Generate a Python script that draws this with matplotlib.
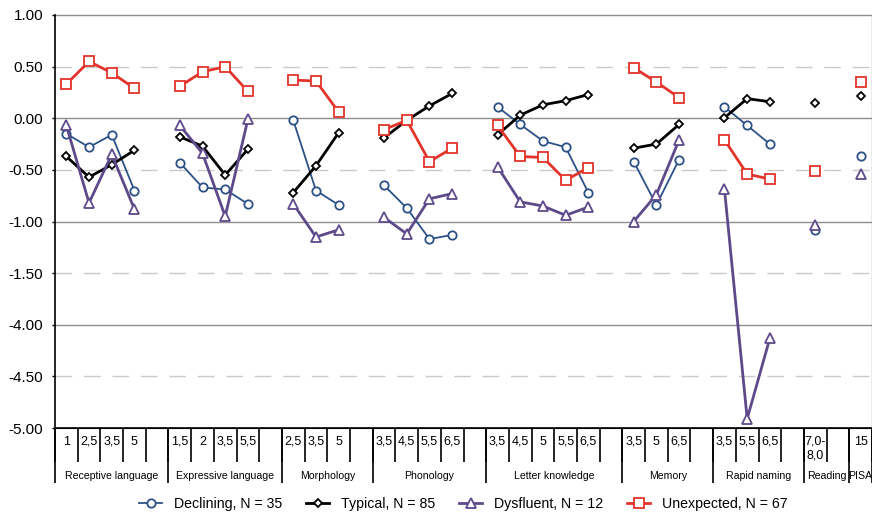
import numpy as np
import matplotlib.pyplot as plt

plt.rcParams['font.family'] = ['Liberation Sans', 'DejaVu Sans']

# domains and age points (years) per domain
domains = ["Receptive language", "Expressive language", "Morphology", "Phonology",
           "Letter knowledge", "Memory", "Rapid naming", "Reading", "PISA"]
ages = [["1", "2,5", "3,5", "5"],
        ["1,5", "2", "3,5", "5,5"],
        ["2,5", "3,5", "5"],
        ["3,5", "4,5", "5,5", "6,5"],
        ["3,5", "4,5", "5", "5,5", "6,5"],
        ["3,5", "5", "6,5"],
        ["3,5", "5,5", "6,5"],
        ["7,0-\n8,0"],
        ["15"]]

# z-scores, flat in the same order as ages
declining = [-0.15, -0.28, -0.16, -0.70,
             -0.43, -0.67, -0.69, -0.83,
             -0.02, -0.70, -0.84,
             -0.65, -0.87, -1.17, -1.13,
             0.11, -0.06, -0.22, -0.28, -0.72,
             -0.42, -0.84, -0.40,
             0.11, -0.07, -0.25,
             -1.08,
             -0.37]
typical = [-0.37, -0.57, -0.45, -0.31,
           -0.18, -0.27, -0.55, -0.30,
           -0.72, -0.46, -0.14,
           -0.19, -0.02, 0.12, 0.24,
           -0.16, 0.03, 0.13, 0.17, 0.23,
           -0.29, -0.25, -0.06,
           0.005, 0.19, 0.16,
           0.15,
           0.22]
dysfluent = [-0.07, -0.82, -0.35, -0.88,
             -0.07, -0.34, -0.95, -0.01,
             -0.83, -1.15, -1.08,
             -0.96, -1.12, -0.78, -0.73,
             -0.47, -0.81, -0.85, -0.94, -0.86,
             -1.00, -0.74, -0.21,
             -0.69, -4.91, -4.13,
             -1.03,
             -0.54]
unexpected = [0.33, 0.55, 0.44, 0.29,
              0.31, 0.45, 0.50, 0.26,
              0.37, 0.36, 0.06,
              -0.11, -0.02, -0.42, -0.29,
              -0.07, -0.37, -0.38, -0.60, -0.48,
              0.49, 0.35, 0.20,
              -0.21, -0.54, -0.59,
              -0.51,
              0.35]

series = [
    ("Declining, N = 35", declining, '#2B5186', 'o', 6.0, 1.3),
    ("Typical, N = 85", typical, '#000000', 'D', 4.2, 2.0),
    ("Dysfluent, N = 12", dysfluent, '#5E4A8A', '^', 6.5, 2.0),
    ("Unexpected, N = 67", unexpected, '#E3342B', 's', 7.0, 2.0),
]


# broken y axis: -1.5 .. -4.0 squeezed into half a grid step
def fwd(v):
    v = np.asarray(v, dtype=float)
    return np.where(v >= -1.5, v, np.where(v <= -4.0, v + 2.0, -1.5 + (v + 1.5) * 0.2))


def inv(t):
    t = np.asarray(t, dtype=float)
    return np.where(t >= -1.5, t, np.where(t <= -2.0, t - 2.0, -1.5 + (t + 1.5) / 0.2))


# slot layout: each domain gets one slot per age plus an empty separator slot
xs_per_domain = []
bounds = []
start = 0
for a in ages:
    bounds.append(start)
    xs_per_domain.append(start + 0.5 + np.arange(len(a)))
    start += len(a) + 1
n_slots = start - 1
bounds.append(n_slots)

fig = plt.figure(figsize=(8.72, 5.12), dpi=100)
ax = fig.add_axes([55 / 872, 84 / 512, 817 / 872, 413 / 512])
ax.set_yscale('function', functions=(fwd, inv))
ax.set_xlim(0, n_slots)
ax.set_ylim(-5, 1)

# grid
for v in [1.0, 0.0, -1.0, -4.0]:
    ax.axhline(v, color='#8E8E8E', lw=1.0, zorder=1, clip_on=False)
for v in [0.5, -0.5, -1.5, -4.5]:
    ax.axhline(v, color='#CACACA', lw=1.0, ls=(0, (12, 8.5)), zorder=1)

handles = []
for label, vals, color, marker, ms, lw in series:
    pos = 0
    for xs in xs_per_domain:
        seg = vals[pos:pos + len(xs)]
        pos += len(xs)
        h, = ax.plot(xs, seg, color=color, lw=lw, marker=marker, ms=ms,
                     mfc='white', mec=color, mew=1.3, zorder=3, clip_on=False)
    handles.append((h, label))

yt = [1.0, 0.5, 0.0, -0.5, -1.0, -1.5, -4.0, -4.5, -5.0]
ax.set_yticks(yt, labels=[f"{v:.2f}" for v in yt])
ax.tick_params(axis='y', length=2.5, width=1.0, pad=6, labelsize=11)

ax.spines['top'].set_visible(False)
ax.spines['right'].set_color('#9A9A9A')
ax.spines['right'].set_linewidth(1.0)
ax.spines['left'].set_linewidth(1.2)
ax.spines['bottom'].set_linewidth(1.2)

# age labels and slot ticks
centers = np.concatenate(xs_per_domain)
age_labels = [s for a in ages for s in a]
ax.set_xticks(np.arange(n_slots + 1), labels=[''] * (n_slots + 1))
ax.set_xticks(centers, labels=age_labels, minor=True)
ax.tick_params(axis='x', which='major', length=24.5, width=1.2, direction='out')
ax.tick_params(axis='x', which='minor', length=0, pad=5.5, labelsize=9)

# domain labels and separators
sec = ax.secondary_xaxis('bottom')
dom_centers = [(bounds[i] + bounds[i + 1]) / 2 for i in range(len(domains))]
sec.set_xticks(bounds, labels=[''] * len(bounds))
sec.set_xticks(dom_centers, labels=domains, minor=True)
sec.tick_params(which='major', length=39.5, width=1.2)
sec.tick_params(which='minor', length=0, pad=31, labelsize=7.6)

ax.legend([h for h, _ in handles], [l for _, l in handles], loc='center',
          bbox_to_anchor=(0.5, -0.185), ncol=4, frameon=False, fontsize=10.2,
          handlelength=1.6, columnspacing=1.7, handletextpad=0.85)

fig.savefig('out.png', dpi=100)
